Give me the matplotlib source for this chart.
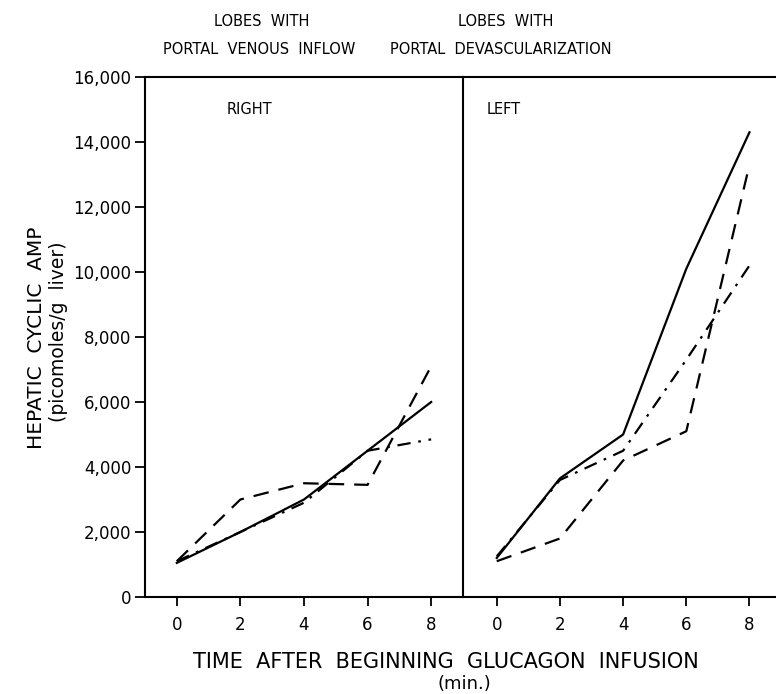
import matplotlib.pyplot as plt

# time after beginning glucagon infusion (min.)
minutes = [0, 2, 4, 6, 8]

# RIGHT lobes (portal venous inflow), picomoles/g liver
right_solid = [1050, 2000, 3000, 4500, 6000]
right_dashed = [1100, 3000, 3500, 3450, 7100]
right_dashdot = [1100, 2000, 2900, 4500, 4850]

# LEFT lobes (portal devascularization)
left_solid = [1200, 3650, 5000, 10100, 14300]
left_dashed = [1100, 1800, 4200, 5100, 13300]
left_dashdot = [1250, 3600, 4500, 7300, 10200]

y_ticks = [0, 2000, 4000, 6000, 8000, 10000, 12000, 14000, 16000]
y_labels = ["0", "2,000", "4,000", "6,000", "8,000", "10,000", "12,000", "14,000", "16,000"]

fig = plt.figure(figsize=(7.76, 6.94), dpi=100)
bottom, top = 0.1398, 0.889
ax1 = fig.add_axes([0.1869, bottom, 0.5966 - 0.1869, top - bottom])
ax2 = fig.add_axes([0.5966, bottom, 1.0 - 0.5966, top - bottom])

dash = (0, (7, 4.5))
dashdot = (0, (6, 3.5, 1.2, 3.5))

for ax, s, d, dd in [(ax1, right_solid, right_dashed, right_dashdot),
                     (ax2, left_solid, left_dashed, left_dashdot)]:
    ax.plot(minutes, s, color="black", lw=1.6, linestyle="-")
    ax.plot(minutes, d, color="black", lw=1.6, linestyle=dash)
    ax.plot(minutes, dd, color="black", lw=1.6, linestyle=dashdot)
    ax.set_ylim(0, 16000)
    ax.set_xticks(minutes)
    ax.set_xticklabels([str(m) for m in minutes])
    ax.tick_params(axis="x", direction="out", length=6.5, width=1.3, labelsize=12, pad=7)
    ax.spines["right"].set_visible(False)
    for sp in ["left", "top", "bottom"]:
        ax.spines[sp].set_linewidth(1.5)

ax1.set_xlim(-1, 9)
ax2.set_xlim(-1.07, 8.84)

ax1.set_yticks(y_ticks)
ax1.set_yticklabels(y_labels)
ax1.tick_params(axis="y", direction="out", length=7, width=1.3, labelsize=12, pad=3)
ax2.set_yticks([])

fig.text(249 / 776, 1 - 110 / 694, "RIGHT", ha="center", va="center", fontsize=10.5)
fig.text(504 / 776, 1 - 110 / 694, "LEFT", ha="center", va="center", fontsize=10.5)

fig.text(262 / 776, 1 - 22 / 694, "LOBES  WITH", ha="center", va="center", fontsize=10.5)
fig.text(259 / 776, 1 - 50 / 694, "PORTAL  VENOUS  INFLOW", ha="center", va="center", fontsize=10.5)
fig.text(506 / 776, 1 - 22 / 694, "LOBES  WITH", ha="center", va="center", fontsize=10.5)
fig.text(501 / 776, 1 - 50 / 694, "PORTAL  DEVASCULARIZATION", ha="center", va="center", fontsize=10.5)

fig.text(37 / 776, 1 - 338 / 694, "HEPATIC  CYCLIC  AMP", rotation=90, ha="center", va="center", fontsize=14.5)
fig.text(59 / 776, 1 - 332 / 694, "(picomoles/g  liver)", rotation=90, ha="center", va="center", fontsize=13.5)

fig.text(446 / 776, 1 - 662 / 694, "TIME  AFTER  BEGINNING  GLUCAGON  INFUSION", ha="center", va="center", fontsize=15)
fig.text(464 / 776, 1 - 684 / 694, "(min.)", ha="center", va="center", fontsize=13)

fig.savefig("out.png", dpi=100)
